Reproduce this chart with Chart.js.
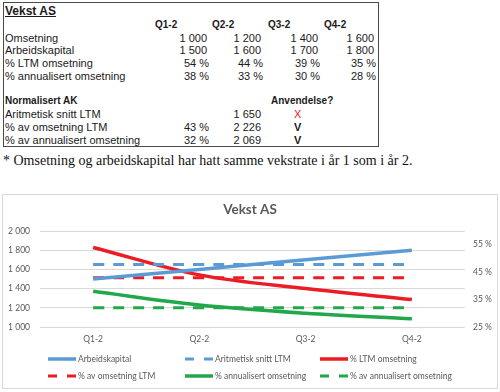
<!DOCTYPE html>
<html>
<head>
<meta charset="utf-8">
<script src="https://cdn.jsdelivr.net/npm/chart.js@4.4.1/dist/chart.umd.min.js"></script>
<style>
    body { margin: 0; background: #fff; width: 500px; height: 392px; overflow: hidden; position: relative; }
    #ramme { position: absolute; left: 3px; top: 2px; width: 374px; height: 143px; border: 1px solid #4a4a4a; }
    .t { position: absolute; line-height: 12px; height: 12px; white-space: nowrap; font-family: "Liberation Sans", Arial, sans-serif; font-size: 11px; color: #1a1a1a; }
    .b { font-weight: bold; font-size: 10px; }
    #fotnote { position: absolute; left: 3px; top: 153px; font-family: "Liberation Serif", "Times New Roman", serif; font-size: 14px; color: #111; white-space: nowrap; }
    #diagramboks { position: absolute; left: 2px; top: 194px; width: 494px; height: 193px; border: 1px solid #d9d9d9; }
    #diagramboks canvas { display: block; }
</style>
</head>
<body>
<div id="ramme"></div>
<div id="fotnote">* Omsetning og arbeidskapital har hatt samme vekstrate i år 1 som i år 2.</div>
<div id="diagramboks"><canvas id="vekstChart" width="494" height="193"></canvas></div>

<script>
// Data
var kvartaler = ['Q1-2', 'Q2-2', 'Q3-2', 'Q4-2'];
var omsetning = [1000, 1200, 1400, 1600];
var arbeidskapital = [1500, 1600, 1700, 1800];
var ltmOmsetningPst = [54, 44, 39, 35];
var annualisertPst = [38, 33, 30, 28];
var snittLTM = 1650;
var avOmsetningLTMPst = 43;
var avOmsetningLTMBelop = 2226;
var avAnnualisertPst = 32;
var avAnnualisertBelop = 2069;
var venstreTicks = [1000, 1200, 1400, 1600, 1800, 2000];
var hoyreTicks = [25, 35, 45, 55];

function tall(n) {
    return String(n).replace(/\B(?=(\d{3})+(?!\d))/g, ' ');
}

// tabellen over diagrammet
function plasser(tekst, x, y, opts) {
    opts = opts || {};
    var el = document.createElement('div');
    el.className = 't' + (opts.bold ? ' b' : '');
    el.textContent = tekst;
    el.style.top = (y - 6) + 'px';
    if (opts.hoyre) {
        el.style.right = (500 - x) + 'px';
    } else {
        el.style.left = x + 'px';
    }
    if (opts.farge) el.style.color = opts.farge;
    if (opts.stil) Object.assign(el.style, opts.stil);
    document.body.appendChild(el);
}

var kolX = [207, 261, 318, 374];
var hodeX = [155, 212, 268, 324];
var radY = [37.5, 50.2, 63, 75.8];

plasser('Vekst AS', 5, 11, { bold: true, stil: { fontSize: '12px', textDecoration: 'underline', lineHeight: '12px' } });
kvartaler.forEach(function (k, i) { plasser(k, hodeX[i], 25, { bold: true }); });

plasser('Omsetning', 5, radY[0]);
plasser('Arbeidskapital', 5, radY[1]);
plasser('% LTM omsetning', 5, radY[2]);
plasser('% annualisert omsetning', 5, radY[3]);
kvartaler.forEach(function (k, i) {
    plasser(tall(omsetning[i]), kolX[i], radY[0], { hoyre: true });
    plasser(tall(arbeidskapital[i]), kolX[i], radY[1], { hoyre: true });
    plasser(ltmOmsetningPst[i] + ' %', kolX[i] + 2, radY[2], { hoyre: true });
    plasser(annualisertPst[i] + ' %', kolX[i] + 2, radY[3], { hoyre: true });
});

plasser('Normalisert AK', 5, 101, { bold: true });
plasser('Anvendelse?', 271, 101, { bold: true });
plasser('Aritmetisk snitt LTM', 5, 114);
plasser(tall(snittLTM), kolX[1], 114, { hoyre: true });
plasser('X', 294, 114, { farge: '#e8141c' });
plasser('% av omsetning LTM', 5, 127);
plasser(avOmsetningLTMPst + ' %', kolX[0] + 2, 127, { hoyre: true });
plasser(tall(avOmsetningLTMBelop), kolX[1], 127, { hoyre: true });
plasser('V', 294, 127, { bold: true, stil: { fontSize: '11px' } });
plasser('% av annualisert omsetning', 5, 139.5);
plasser(avAnnualisertPst + ' %', kolX[0] + 2, 139.5, { hoyre: true });
plasser(tall(avAnnualisertBelop), kolX[1], 139.5, { hoyre: true });
plasser('V', 294, 139.5, { bold: true, stil: { fontSize: '11px' } });

// diagram
var BLA = '#5b9bd5';
var ROD = '#ec1c24';
var GRONN = '#22a84a';
var GRA = '#595959';

function konstant(v) {
    return kvartaler.map(function () { return v; });
}

var legendX = [45, 182, 317];
var legendY = [164, 181];

const rutenettLegend = {
    id: 'rutenettLegend',
    afterDraw(chart) {
        const ctx = chart.ctx;
        ctx.save();
        ctx.font = '8.5px Lato';
        ctx.fillStyle = GRA;
        ctx.textBaseline = 'middle';
        chart.data.datasets.forEach(function (ds, i) {
            var x = legendX[i % 3];
            var y = legendY[Math.floor(i / 3)];
            ctx.strokeStyle = ds.borderColor;
            ctx.lineWidth = ds.borderDash ? 3 : 3.5;
            ctx.setLineDash(ds.borderDash ? [9, 10] : []);
            ctx.beginPath();
            ctx.moveTo(x, y);
            ctx.lineTo(x + 28, y);
            ctx.stroke();
            ctx.fillText(ds.label, x + 30, y + 0.5);
        });
        ctx.restore();
    }
};

new Chart(document.getElementById('vekstChart'), {
    type: 'line',
    data: {
        labels: kvartaler,
        datasets: [
            { label: 'Arbeidskapital', data: arbeidskapital, yAxisID: 'y', borderColor: BLA, borderWidth: 3.5 },
            { label: 'Aritmetisk snitt LTM', data: konstant(snittLTM), yAxisID: 'y', borderColor: BLA, borderWidth: 3, borderDash: [11, 9] },
            { label: '% LTM omsetning', data: ltmOmsetningPst, yAxisID: 'y1', borderColor: ROD, borderWidth: 3.5 },
            { label: '% av omsetning LTM', data: konstant(avOmsetningLTMPst), yAxisID: 'y1', borderColor: ROD, borderWidth: 3, borderDash: [11, 9] },
            { label: '% annualisert omsetning', data: annualisertPst, yAxisID: 'y1', borderColor: GRONN, borderWidth: 3.5 },
            { label: '% av annualisert omsetning', data: konstant(avAnnualisertPst), yAxisID: 'y1', borderColor: GRONN, borderWidth: 3, borderDash: [11, 9] }
        ]
    },
    options: {
        responsive: false,
        animation: false,
        layout: { padding: { left: 0, right: 0, top: 0, bottom: 41 } },
        elements: {
            point: { radius: 0 },
            line: { tension: 0.35, fill: false }
        },
        plugins: {
            legend: { display: false },
            tooltip: { enabled: false },
            title: {
                display: true,
                text: 'Vekst AS',
                color: GRA,
                font: { family: 'Lato', size: 13.5, weight: 'bold' },
                padding: { top: 7, bottom: 12.8 }
            }
        },
        scales: {
            x: {
                offset: true,
                grid: { display: false, drawTicks: false },
                border: { display: false },
                ticks: { color: GRA, font: { family: 'Lato', size: 8.5 }, padding: 7, maxRotation: 0 },
                afterFit: function (s) { s.height = 20; }
            },
            y: {
                position: 'left',
                min: 1000,
                max: 2000,
                grid: { color: '#d9d9d9', lineWidth: 1, drawTicks: false },
                border: { display: false },
                ticks: { color: GRA, font: { family: 'Lato', size: 8.5 }, padding: 10, callback: function (v) { return tall(v); } },
                afterBuildTicks: function (s) { s.ticks = venstreTicks.map(function (v) { return { value: v }; }); },
                afterFit: function (s) { s.width = 37; }
            },
            y1: {
                position: 'right',
                min: 25,
                max: 60,
                grid: { display: false, drawTicks: false },
                border: { display: false },
                ticks: { color: GRA, font: { family: 'Lato', size: 8.5 }, padding: 8, callback: function (v) { return v + ' %'; } },
                afterBuildTicks: function (s) { s.ticks = hoyreTicks.map(function (v) { return { value: v }; }); },
                afterFit: function (s) { s.width = 32; }
            }
        }
    },
    plugins: [rutenettLegend]
});
</script>
</body>
</html>
